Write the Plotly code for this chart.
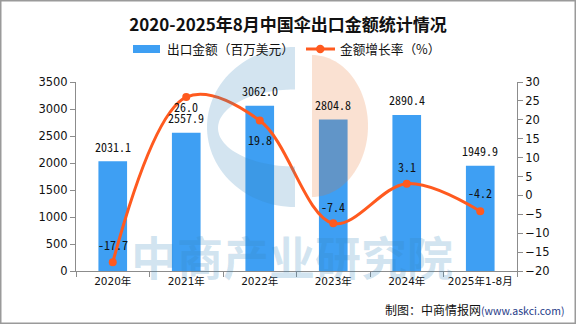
import numpy as np
import plotly.graph_objects as go

# ---- data ----
years = ["2020年", "2021年", "2022年", "2023年", "2024年", "2025年1-8月"]
export_value = [2031.1, 2557.9, 3062.0, 2804.8, 2890.4, 1949.9]   # 百万美元
growth_rate = [-17.7, 26.0, 19.8, -7.4, 3.1, -4.2]                 # %

# ---- styling ----
BAR_COLOR = "#3E9FF3"
LINE_COLOR = "#FF5A1F"
AXIS_COLOR = "#8C8C8C"
CJK = "Noto Sans CJK SC"
LABEL_FONT = "Noto Sans Mono CJK SC, DejaVu Sans Mono, monospace"
TICK_FONT = "DejaVu Sans, Noto Sans CJK SC, sans-serif"

FIG_W, FIG_H = 576, 324
L, T, R, B = 76, 82, 59, 53
PW, PH = FIG_W - L - R, FIG_H - T - B

# vertical pixel offsets of the growth-rate labels (positive = above the point)
rate_label_shift = [18, -9, -19, 17, 17, 19]


def px_x(px):
    return (px - L) / PW


def px_y(py):
    return (T + PH - py) / PH


def path_from_px(points):
    parts = [f"{px_x(x):.5f},{px_y(y):.5f}" for x, y in points]
    return "M" + " L".join(parts) + " Z"


fig = go.Figure()

fig.add_trace(go.Bar(
    x=years, y=export_value, name="出口金额（百万美元）",
    marker=dict(color=BAR_COLOR, line=dict(width=0)),
    yaxis="y", showlegend=False,
))

fig.add_trace(go.Scatter(
    x=years, y=growth_rate, name="金额增长率（%）",
    mode="lines+markers",
    line=dict(color=LINE_COLOR, width=3, shape="spline", smoothing=1.0),
    marker=dict(color=LINE_COLOR, size=8),
    yaxis="y2", showlegend=False,
))

annotations = []
# value labels above bars
for cat, v in zip(years, export_value):
    annotations.append(dict(
        x=cat, y=v, xref="x", yref="y", text=f"{v:.1f}", showarrow=False,
        yanchor="middle", yshift=15,
        font=dict(family=LABEL_FONT, size=12, color="#111"),
    ))
# growth labels near the line points
for cat, r, s in zip(years, growth_rate, rate_label_shift):
    annotations.append(dict(
        x=cat, y=r, xref="x", yref="y2", text=f"{r:.1f}", showarrow=False,
        yanchor="middle", yshift=s,
        font=dict(family=LABEL_FONT, size=12, color="#111"),
    ))

# legend (drawn by hand)
annotations.append(dict(
    x=px_x(165), y=px_y(49), xref="paper", yref="paper", xanchor="left", yanchor="middle",
    text="出口金额（百万美元）", showarrow=False,
    font=dict(family=CJK, size=12.7, color="#111"),
))
annotations.append(dict(
    x=px_x(338), y=px_y(49), xref="paper", yref="paper", xanchor="left", yanchor="middle",
    text="金额增长率（%）", showarrow=False,
    font=dict(family=CJK, size=12.7, color="#111"),
))

# source line
annotations.append(dict(
    x=px_x(566), y=px_y(309), xref="paper", yref="paper", xanchor="right", yanchor="middle",
    text='制图：中商情报网<span style="color:#1F3C88;font-size:10.5px">(www.askci.com)</span>',
    showarrow=False, font=dict(family=CJK, size=12, color="#111"),
))

# watermark text
annotations.append(dict(
    x=px_x(292), y=px_y(255), xref="paper", yref="paper", xanchor="center", yanchor="middle",
    text="<b>中商产业研究院</b>", showarrow=False,
    font=dict(family=CJK, size=46, color="rgba(53,134,188,0.22)"),
))

shapes = []
# legend symbols
shapes.append(dict(type="rect", xref="paper", yref="paper",
                   x0=px_x(133), x1=px_x(160), y0=px_y(53), y1=px_y(45),
                   fillcolor=BAR_COLOR, line=dict(width=0)))
shapes.append(dict(type="line", xref="paper", yref="paper",
                   x0=px_x(306), x1=px_x(335), y0=px_y(49), y1=px_y(49),
                   line=dict(color=LINE_COLOR, width=3)))
shapes.append(dict(type="circle", xref="paper", yref="paper",
                   x0=px_x(316), x1=px_x(324.5), y0=px_y(53.2), y1=px_y(44.8),
                   fillcolor=LINE_COLOR, line=dict(width=0)))

# watermark logo: blue half ring and salmon half disc
t = np.linspace(0, np.pi, 60)
cx, cy = 295, 127
outer = [(cx - 88 * np.sin(a), cy - 80 * np.cos(a)) for a in t]
inner = [(cx - 77 * np.sin(a), cy + 1 - 38.5 * np.cos(a)) for a in t[::-1]]
shapes.append(dict(type="path", xref="paper", yref="paper", layer="above",
                   path=path_from_px(outer + inner),
                   fillcolor="rgba(53,134,188,0.22)", line=dict(width=0)))
sx, sy = 312, 126
half_disc = [(sx + 56 * np.sin(a), sy - 71 * np.cos(a)) for a in t]
shapes.append(dict(type="path", xref="paper", yref="paper", layer="above",
                   path=path_from_px(half_disc),
                   fillcolor="rgba(231,112,41,0.21)", line=dict(width=0)))

# outer frame
shapes.append(dict(type="rect", xref="paper", yref="paper",
                   x0=px_x(0.75), x1=px_x(575.25), y0=px_y(323.25), y1=px_y(0.75),
                   line=dict(color="#9A9A9A", width=1.5), fillcolor="rgba(0,0,0,0)"))

fig.update_layout(
    width=FIG_W, height=FIG_H,
    margin=dict(l=L, r=R, t=T, b=B, pad=0),
    paper_bgcolor="white", plot_bgcolor="white",
    bargap=0.61,
    title=dict(
        text="<b>2020-2025年8月中国伞出口金额统计情况</b>",
        x=0.5, xref="container", xanchor="center",
        y=1 - 25 / FIG_H, yref="container", yanchor="middle",
        font=dict(family=CJK, size=17, color="#111"),
    ),
    xaxis=dict(
        type="category", showgrid=False, showline=True, linecolor=AXIS_COLOR, linewidth=1,
        ticks="outside", tickson="boundaries", ticklen=5, tickcolor=AXIS_COLOR,
        tickangle=0,
        tickfont=dict(family=TICK_FONT, size=10.5, color="#111"),
    ),
    yaxis=dict(
        range=[0, 3500], dtick=500, showgrid=False, zeroline=False,
        showline=True, linecolor=AXIS_COLOR, linewidth=1,
        ticks="outside", ticklen=5, tickcolor=AXIS_COLOR,
        tickfont=dict(family=TICK_FONT, size=11.5, color="#111"),
    ),
    yaxis2=dict(
        range=[-20, 30], dtick=5, overlaying="y", side="right",
        showgrid=False, zeroline=False,
        showline=True, linecolor=AXIS_COLOR, linewidth=1,
        ticks="outside", ticklen=5, tickcolor=AXIS_COLOR,
        tickfont=dict(family=TICK_FONT, size=11.5, color="#111"),
    ),
    annotations=annotations,
    shapes=shapes,
    showlegend=False,
)

fig.write_html("out.html")
